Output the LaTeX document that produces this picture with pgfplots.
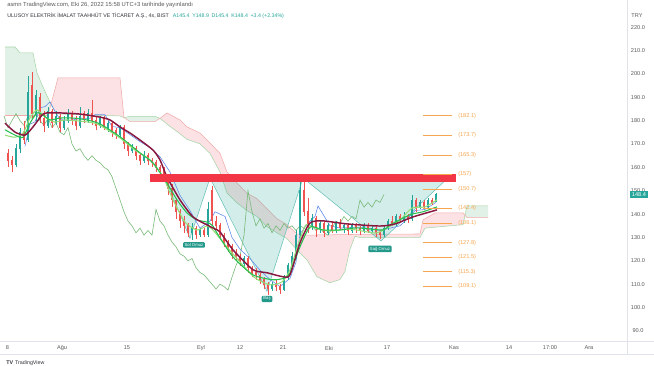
\documentclass[border=0pt]{standalone}
\usepackage{fontspec}
\setmainfont{Liberation Sans}
\usepackage{pgfplots}
\pgfplotsset{compat=1.18}
\usepackage{pgfplotstable}

\definecolor{upc}{RGB}{38,166,154}
\definecolor{dnc}{RGB}{239,83,80}
\definecolor{maroonl}{RGB}{136,24,64}
\definecolor{emaA}{RGB}{40,190,80}
\definecolor{emaB}{RGB}{150,222,120}
\definecolor{tenkan}{RGB}{100,140,235}
\definecolor{chikou}{RGB}{120,185,120}
\definecolor{spanA}{RGB}{165,214,167}
\definecolor{spanB}{RGB}{242,170,170}
\definecolor{cloudG}{RGB}{226,241,231}
\definecolor{cloudR}{RGB}{252,226,228}
\definecolor{hsfill}{RGB}{38,166,154}
\definecolor{barred}{RGB}{242,54,69}
\definecolor{fib}{RGB}{247,166,80}
\definecolor{tealbox}{RGB}{34,153,138}
\definecolor{axgray}{RGB}{224,227,235}
\definecolor{txtgray}{RGB}{90,90,90}
\definecolor{txtdark}{RGB}{50,50,60}

\newcommand{\lab}{\fontsize{4.2}{5}\selectfont}

\pgfplotstableread{
x o h l c
16 161 170 160 168
20 168 177 166 175
28 172 199 171 192
36 183 193 180 191
48 178 186 177 184
56 179 184 178 182
64 177 182 176 180
68 180 185 179 183
80 178 186 177 182
88 180 185 179 183
100 178 182 177 181
108 177 180 175 179
120 174 178 173 177
132 167 170 166 168
144 163 167 162 165
192 132 136 129 134
200 131 134 130 133
208 131 145 130 142
244 119 122 117 121
272 108 111 107 110
284 107.5 114 107 113
288 113 119 112 118
292 118 124 117 122
296 122 133 121 131
300 131 157 130 150
312 135 140 133 138
320 134 137 132 136
328 132 136 131 135
336 133 137 132 136
344 134 136 132 135
352 133 136 132 135
364 133 136 132 135
372 133 135 132 134
384 131 135 130 134
388 134 138 133 137
396 136 140 135 139
404 137 141 136 139
412 138 148 137 146
420 143 146 142 145
428 143 147 142 146
436 145.4 148.9 145.4 148.4
}\upcandles

\pgfplotstableread{
x o h l c
8 166 168 160 163
12 163 165 158 161
24 175 180 170 172
32 195 201 181 183
40 190 192 179 181
44 181 184 175 178
52 184 185 177 179
60 182 183 175 177
72 183 184 178 180
76 180 182 176 178
84 183 184 179 181
92 183 189 178 180
96 180 182 176 178
104 181 182 176 177
112 179 180 173 175
116 176 177 172 174
124 177 178 168 170
128 170 171 165 167
136 168 169 163 165
140 165 166 161 163
148 165 166 161 163
152 163 164 160 162
156 162 163 158 160
160 160 161 157 159
164 159 160 154 156
168 156 157 148 151
172 151 153 143 146
176 146 147 138 141
180 141 142 134 137
184 137 139 132 135
188 135 136 130 132
196 134 135 129.5 131
204 133 134 130 131
212 150 152 135 137
216 137 139 133 135
220 135 136 129 131
224 131 132 126 128
228 128 129 124 126
232 126 127 121 123
236 123 125 120 122
240 122 123 118 120
248 121 122 115 117
252 117 118 113 115
256 115 117 112 114
260 114 115 110 112
264 112 113 108 110
268 110 111 105.5 108
276 110 112 107 109
280 109 110 106 107.5
304 150 155 139 141
308 141 147 132 135
316 138 139 130 134
324 136 137 130 132
332 135 137 132 133
340 136 138 133 134
348 135 136 131 133
356 135 136 132 134
360 134 135 131 133
368 135 136 132 133
376 134 135 130 132
380 132 133 129.5 131
392 137 139 135 136
400 139 140 136 137
408 139 140 136 138
416 146 147 141 143
424 145 146 142 143
432 146 147 144 145
}\dncandles

\begin{document}
\begin{tikzpicture}
\fill[white] (0,0) rectangle (490.5pt,274.5pt);
\begin{axis}[at={(0,0)}, anchor=south west, scale only axis,
  width=490.5pt, height=274.5pt,
  xmin=0, xmax=654, ymin=75.01, ymax=231.62,
  hide axis, clip=false,
  candle/.style={mark=none, draw opacity=0, forget plot,
    error bars/.cd, y dir=both, y explicit, error mark=none}]

% ---- Ichimoku cloud fills
\addplot[fill=cloudG, draw=none, forget plot] coordinates {(5,211.5)(15,211.5)(20,209)(33,209)(37,200.4)(43,194.4)(51,187)(48,182.2)(5,182.2)} -- cycle;
\addplot[fill=cloudR, draw=none, forget plot] coordinates {(51,187)(58,198.3)(120,198.3)(124,181.3)(120,182)(60,182.8)(56,183)} -- cycle;
\addplot[fill=cloudG, draw=none, forget plot] coordinates {(124,181.3)(130,181.8)(155,181.8)(160,181)(155,179.6)(130,179.6)} -- cycle;
\addplot[fill=cloudR, draw=none, forget plot] coordinates {(160,181)(167,183.3)(180,180.3)(187,177.3)(200,174.7)(210,170.4)(220,166)(227,158)(237,153.3)(247,148.9)(257,146.6)(267,142.3)(277,138)(287,135.5)(297,131.5)(307,131)(355,131.3)(420,131.5)(423,137.5)(435,140.5)(463,140.5)(465,139.5)
(463,135.5)(425,134)(420,130)(360,130)(355,130.5)(350,125)(345,115.5)(340,112)(330,110.6)(317,113.2)(307,120.4)(297,124.7)(287,129.5)(277,132)(267,134.6)(257,139)(247,141.5)(237,144.8)(227,149)(220,158)(210,166)(200,170.1)(187,172)(180,174.4)(167,178.5)} -- cycle;
\addplot[fill=cloudG, draw=none, forget plot] coordinates {(465,139.5)(467,143.5)(488,143.5)(488,138.5)(467,138.5)} -- cycle;

% ---- cloud boundaries
\addplot[spanA, line width=0.4pt, forget plot] coordinates {(5,211.5)(15,211.5)(20,209)(33,209)(37,200.4)(43,194.4)(51,187)(56,183)(60,182.8)(120,182)(124,181.3)(130,181.8)(155,181.8)(160,181)(167,178.5)(180,174.4)(187,172)(200,170.1)(210,166)(220,158)(227,149)(237,144.8)(247,141.5)(257,139)(267,134.6)(277,132)(287,129.5)(297,124.7)(307,120.4)(317,113.2)(330,110.6)(340,112)(345,115.5)(350,125)(355,130.5)(360,130)(420,130)(425,134)(463,135.5)(467,143.5)(488,143.5)};
\addplot[spanB, line width=0.4pt, forget plot] coordinates {(5,182.2)(48,182.2)(51,187)(58,198.3)(120,198.3)(124,181.3)(130,179.6)(155,179.6)(160,181)(167,183.3)(180,180.3)(187,177.3)(200,174.7)(210,170.4)(220,166)(227,158)(237,153.3)(247,148.9)(257,146.6)(267,142.3)(277,138)(287,135.5)(297,131.5)(307,131)(355,131.3)(420,131.5)(423,137.5)(435,140.5)(463,140.5)(467,138.5)(488,138.5)};

% ---- head and shoulders triangles
\addplot[fill=hsfill, fill opacity=0.2, draw=hsfill!70, line width=0.4pt, forget plot] coordinates {(165,155.5)(190,129.6)(210,155.5)} -- cycle;
\addplot[fill=hsfill, fill opacity=0.2, draw=hsfill!70, line width=0.4pt, forget plot] coordinates {(210,155.5)(267,107)(303,155.5)} -- cycle;
\addplot[fill=hsfill, fill opacity=0.2, draw=hsfill!70, line width=0.4pt, forget plot] coordinates {(303,155.5)(381,128.5)(448,155.5)} -- cycle;

% ---- lagging span
\addplot[chikou, line width=0.45pt, forget plot] coordinates {(4,182)(8,177)(12,180)(16,183)(20,180)(24,178)(28,182)(32,181)(36,183)(40,180)(44,178)(48,181)(52,177)(56,179)(60,175)(64,174)(68,177)(72,170)(76,167)(80,168)(84,165)(88,163)(92,165)(96,163)(100,162)(104,160)(108,159)(112,156)(116,151)(120,146)(124,141)(128,137)(132,135)(136,132)(140,134)(144,131)(148,133)(152,131)(156,142)(160,137)(164,135)(168,131)(172,128)(176,126)(180,123)(184,122)(188,120)(192,121)(196,117)(200,115)(204,114)(208,112)(212,110)(216,108)(220,110)(224,109)(228,107.5)(232,113)(236,118)(240,122)(244,131)(248,150)(252,141)(256,135)(260,138)(264,134)(268,136)(272,132)(276,135)(280,133)(284,136)(288,134)(292,135)(296,133)(300,135)(304,134)(308,133)(312,135)(316,133)(320,134)(324,132)(328,131)(332,134)(336,137)(340,136)(344,139)(348,137)(352,139)(356,138)(360,146)(364,143)(368,145)(372,143)(376,146)(380,145)(384,148.4)};

% ---- conversion line
\addplot[tenkan, line width=0.45pt, forget plot] coordinates {(25,169)(30,178.5)(35,179.5)(40,185.5)(45,186)(50,188)(55,184)(60,180.5)(70,180)(80,181)(90,181)(95,182.5)(105,182.5)(112,177.5)(120,177)(130,174)(140,171)(150,168.5)(160,164.5)(170,158)(180,148)(190,141.5)(200,134)(210,137)(215,141)(225,139)(232,130)(240,125)(250,121)(260,116)(270,112)(280,109)(290,112.5)(296,119.5)(300,131.5)(305,134.5)(310,137)(315,139)(318,143.5)(325,138.5)(330,135)(340,134)(360,134.5)(380,133)(390,134)(400,135)(405,137)(415,141.5)(425,142)(436,145)};

% ---- candles: wicks
\addplot[candle, error bar style={draw=upc, draw opacity=1, line width=0.45pt}]
  table[x=x, y expr={(\thisrow{h}+\thisrow{l})/2}, y error expr={(\thisrow{h}-\thisrow{l})/2}] {\upcandles};
\addplot[candle, error bar style={draw=dnc, draw opacity=1, line width=0.45pt}]
  table[x=x, y expr={(\thisrow{h}+\thisrow{l})/2}, y error expr={(\thisrow{h}-\thisrow{l})/2}] {\dncandles};
% ---- candles: bodies
\addplot[candle, error bar style={draw=upc, draw opacity=1, line width=2pt}]
  table[x=x, y expr={(\thisrow{o}+\thisrow{c})/2}, y error expr={abs(\thisrow{c}-\thisrow{o})/2+0.15}] {\upcandles};
\addplot[candle, error bar style={draw=dnc, draw opacity=1, line width=2pt}]
  table[x=x, y expr={(\thisrow{o}+\thisrow{c})/2}, y error expr={abs(\thisrow{o}-\thisrow{c})/2+0.15}] {\dncandles};

% ---- moving averages
\addplot[emaB, line width=0.8pt, smooth, tension=0.4, forget plot] coordinates {(5,173.8)(15,172.9)(23,174.6)(30,181.1)(37,184.6)(45,181.5)(55,179.4)(65,180.3)(80,179.8)(95,178.9)(105,176.7)(120,172.6)(135,167.4)(150,163.2)(163,155.9)(173,146.1)(185,136.6)(197,133.2)(207,134.9)(213,133.2)(225,126.9)(240,119.5)(255,112.7)(270,109.7)(282,111)(290,116.2)(298,126.9)(306,135.4)(315,134.1)(330,132.8)(350,133.6)(375,131.9)(385,133.6)(400,137.5)(412,142.6)(425,143.1)(437,146.1)};
\addplot[emaA, line width=0.8pt, smooth, tension=0.4, forget plot] coordinates {(5,176.1)(15,173.8)(23,172.9)(30,178.9)(37,183.3)(43,182.4)(50,180.3)(60,181.1)(73,181.1)(87,180.3)(100,178.6)(120,173.1)(140,166.2)(153,161.9)(167,153.3)(177,146.1)(187,140.5)(197,137.5)(207,136.6)(213,134.9)(217,131.9)(233,121.7)(253,114)(273,111.9)(285,112.7)(290,114.9)(300,126)(310,134.5)(323,133.2)(340,133.2)(357,134.1)(383,133.2)(390,135.4)(410,139.7)(423,141)(437,143.1)};
\addplot[maroonl, line width=1.1pt, smooth, tension=0.4, forget plot] coordinates {(5,178.9)(15,175.1)(25,173.8)(33,177.3)(43,182.8)(50,183.3)(60,183.3)(80,182.8)(100,181.5)(110,180.3)(120,177.3)(130,174.7)(140,171.7)(153,167.4)(160,163.2)(167,155.9)(180,146.1)(193,138.8)(207,135.4)(215,133.6)(220,132.4)(233,124.7)(253,116.2)(267,114.9)(283,113.2)(290,114)(300,127.7)(310,136.2)(323,137.1)(347,135.8)(380,134.9)(395,135.8)(413,138.8)(437,141.8)};

% ---- neckline bar
\addplot[fill=barred, draw=none, forget plot] coordinates {(150,153.8)(456,153.8)(456,157.2)(150,157.2)} -- cycle;

% ---- fib levels
\pgfplotsinvokeforeach{182.1,173.7,165.3,157,150.7,142.4,136.1,127.8,121.5,115.3,109.1}{
  \addplot[fib, line width=0.6pt, forget plot] coordinates {(423,#1) (452,#1)};
  \node[anchor=west, text=fib, inner sep=0pt, font=\lab] at (axis cs:458,#1) {(#1)};
}

% ---- pattern labels
\node[fill=tealbox, text=white, rounded corners=0.8pt, inner xsep=1.2pt, inner ysep=0.9pt, font=\fontsize{3.2}{3.6}\selectfont] at (axis cs:194,126.8) {Sol Omuz};
\node[fill=tealbox, text=white, rounded corners=0.8pt, inner xsep=1.2pt, inner ysep=0.9pt, font=\fontsize{3.2}{3.6}\selectfont] at (axis cs:267,103.7) {Baş};
\node[fill=tealbox, text=white, rounded corners=0.8pt, inner xsep=1.2pt, inner ysep=0.9pt, font=\fontsize{3.2}{3.6}\selectfont] at (axis cs:380,125.1) {Sağ Omuz};

% ---- frame lines
\draw[axgray, line width=0.5pt] (axis cs:627,231.62) -- (axis cs:627,80.2);
\draw[axgray, line width=0.5pt] (axis cs:0,85.7) -- (axis cs:654,85.7);
\draw[axgray, line width=0.5pt] (axis cs:0,80.2) -- (axis cs:654,80.2);

% ---- price scale
\node[text=txtgray, font=\lab] at (axis cs:637,224.8) {TRY};
\pgfplotsinvokeforeach{220.0,210.0,200.0,190.0,180.0,170.0,160.0,150.0,140.0,130.0,120.0,110.0,100.0,90.0}{
  \node[text=txtgray, font=\lab] at (axis cs:638,#1) {#1};
}
\node[fill=upc, text=white, inner xsep=1.5pt, inner ysep=1pt, font=\lab] at (axis cs:639,148.4) {148.4};

% ---- time scale
\node[text=txtgray, font=\lab] at (axis cs:7.5,82.7) {8};
\node[text=txtgray, font=\lab] at (axis cs:62,82.7) {Ağu};
\node[text=txtgray, font=\lab] at (axis cs:127,82.7) {15};
\node[text=txtgray, font=\lab] at (axis cs:201,82.7) {Eyl};
\node[text=txtgray, font=\lab] at (axis cs:240,82.7) {12};
\node[text=txtgray, font=\lab] at (axis cs:283,82.7) {21};
\node[text=txtgray, font=\lab] at (axis cs:329,82.7) {Eki};
\node[text=txtgray, font=\lab] at (axis cs:387,82.7) {17};
\node[text=txtgray, font=\lab] at (axis cs:454,82.7) {Kas};
\node[text=txtgray, font=\lab] at (axis cs:509,82.7) {14};
\node[text=txtgray, font=\lab] at (axis cs:550,82.7) {17:00};
\node[text=txtgray, font=\lab] at (axis cs:589,82.7) {Ara};

% ---- header
\node[anchor=west, inner sep=0pt, text=txtgray, font=\fontsize{4.4}{5}\selectfont] at (axis cs:7,229.4) {asmn TradingView.com, Eki 26, 2022 15:58 UTC+3 tarihinde yayınlandı};
\node[anchor=west, inner sep=0pt, font=\fontsize{3.95}{4.5}\selectfont] at (axis cs:7,225.0) {\textcolor{txtdark}{ULUSOY ELEKTRİK İMALAT TAAHHÜT VE TİCARET A.Ş., 4s, BIST}\hspace{3pt}\textcolor{upc}{A145.4\hspace{2pt}Y148.9\hspace{2pt}D145.4\hspace{2pt}K148.4\hspace{2pt}+3.4 (+2.34\%)}};
\node[anchor=west, inner sep=0pt, text=txtdark, font=\fontsize{4}{4.5}\selectfont] at (axis cs:6,76.4) {\textbf{TV}\hspace{1.5pt}TradingView};
\end{axis}
\pgfresetboundingbox
\path (0,0) rectangle (490.5pt,274.5pt);
\end{tikzpicture}
\end{document}
